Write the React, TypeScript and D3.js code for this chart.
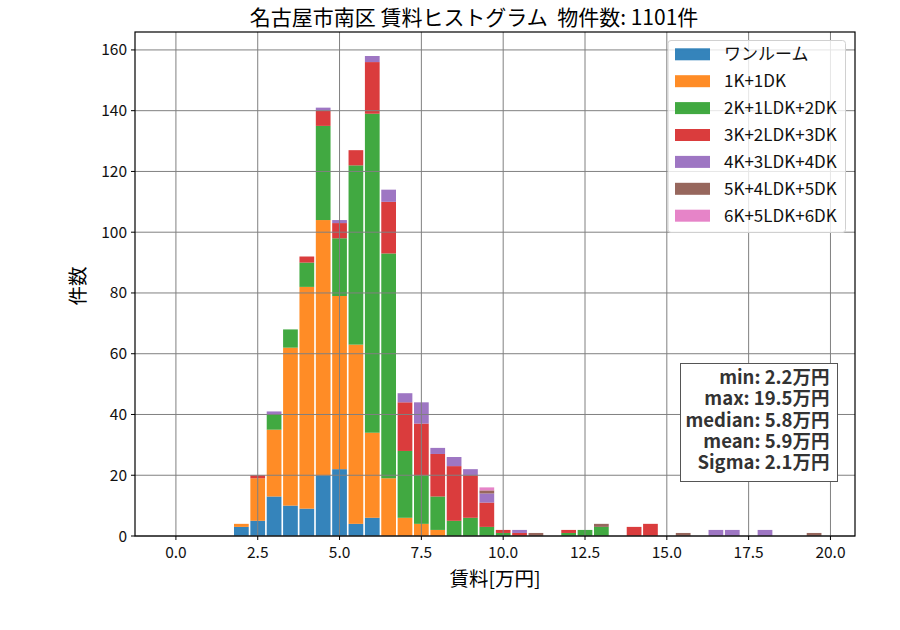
import * as d3 from 'd3';

// bin centres (万円) that hold at least one listing
const binCenters = [2.0, 2.5, 3.0, 3.5, 4.0, 4.5, 5.0, 5.5, 6.0, 6.5, 7.0, 7.5, 8.0, 8.5, 9.0, 9.5, 10.0, 10.5, 11.0, 12.0, 12.5, 13.0, 14.0, 14.5, 15.5, 16.5, 17.0, 18.0, 19.5];

const oneRoom = [3, 5, 13, 10, 9, 20, 22, 4, 6, 0, 0, 0, 0, 0, 0, 0, 0, 0, 0, 0, 0, 0, 0, 0, 0, 0, 0, 0, 0];
const k1 = [1, 14, 22, 52, 73, 84, 57, 59, 28, 19, 6, 4, 2, 0, 0, 0, 0, 0, 0, 0, 0, 0, 0, 0, 0, 0, 0, 0, 0];
const k2 = [0, 0, 5, 6, 8, 31, 19, 59, 105, 74, 22, 16, 11, 5, 6, 3, 1, 0, 0, 1, 2, 3, 0, 0, 0, 0, 0, 0, 0];
const k3 = [0, 1, 0, 0, 2, 5, 5, 5, 17, 17, 16, 17, 14, 18, 14, 8, 1, 1, 0, 1, 0, 0, 3, 4, 0, 0, 0, 0, 0];
const k4 = [0, 0, 1, 0, 0, 1, 1, 0, 2, 4, 3, 7, 2, 3, 2, 3, 0, 1, 0, 0, 0, 0, 0, 0, 0, 2, 2, 2, 0];
const k5 = [0, 0, 0, 0, 0, 0, 0, 0, 0, 0, 0, 0, 0, 0, 0, 1, 0, 0, 1, 0, 0, 1, 0, 0, 1, 0, 0, 0, 1];
const k6 = [0, 0, 0, 0, 0, 0, 0, 0, 0, 0, 0, 0, 0, 0, 0, 1, 0, 0, 0, 0, 0, 0, 0, 0, 0, 0, 0, 0, 0];

const seriesNames = ['ワンルーム', '1K+1DK', '2K+1LDK+2DK', '3K+2LDK+3DK', '4K+3LDK+4DK', '5K+4LDK+5DK', '6K+5LDK+6DK'];
const seriesValues = [oneRoom, k1, k2, k3, k4, k5, k6];
const colors = ['#1f77b4', '#ff7f0e', '#2ca02c', '#d62728', '#9467bd', '#8c564b', '#e377c2'];

const xTicks = [0, 2.5, 5, 7.5, 10, 12.5, 15, 17.5, 20];
const yTicks = [0, 20, 40, 60, 80, 100, 120, 140, 160];
const statsLines = ['min: 2.2万円', 'max: 19.5万円', 'median: 5.8万円', 'mean: 5.9万円', 'Sigma: 2.1万円'];
const title = '名古屋市南区 賃料ヒストグラム  物件数: 1101件';

const binWidth = 0.5;
const font = '"Noto Sans CJK JP", "Noto Sans", sans-serif';

export default function App() {
  const W = 900;
  const H = 630;
  const m = { left: 135, right: 855, top: 32, bottom: 536 };

  const x = d3.scaleLinear().domain([-1.25, 20.75]).range([m.left, m.right]);
  const y = d3.scaleLinear().domain([0, 165.9]).range([m.bottom, m.top]);

  const rows = binCenters.map((c, i) => {
    const r: Record<string, number> = { center: c };
    seriesNames.forEach((n, j) => (r[n] = seriesValues[j][i]));
    return r;
  });
  const stacked = d3.stack<Record<string, number>>().keys(seriesNames)(rows);
  const barW = x(binWidth * 0.9) - x(0);

  return (
    <svg width={W} height={H} style={{ position: 'absolute', left: 0, top: 0, fontFamily: font }}>
      <rect width={W} height={H} fill="white" />

      {/* bars */}
      {stacked.map((layer, j) => (
        <g key={layer.key} fill={colors[j]} fillOpacity={0.9}>
          {layer.map((d, i) =>
            d[1] - d[0] > 0 ? (
              <rect
                key={i}
                x={x(d.data.center) - barW / 2}
                width={barW}
                y={y(d[1])}
                height={y(d[0]) - y(d[1])}
              />
            ) : null
          )}
        </g>
      ))}

      {/* grid over bars */}
      <g stroke="#808080" strokeWidth={1}>
        {xTicks.map(t => (
          <line key={'gx' + t} x1={x(t)} x2={x(t)} y1={m.top} y2={m.bottom} />
        ))}
        {yTicks.map(t => (
          <line key={'gy' + t} x1={m.left} x2={m.right} y1={y(t)} y2={y(t)} />
        ))}
      </g>

      {/* frame */}
      <rect x={m.left} y={m.top} width={m.right - m.left} height={m.bottom - m.top} fill="none" stroke="black" strokeWidth={1.2} />

      {/* ticks */}
      <g fontSize={15.5} fill="#111">
        {xTicks.map(t => (
          <g key={'tx' + t}>
            <line x1={x(t)} x2={x(t)} y1={m.bottom} y2={m.bottom + 4} stroke="black" />
            <text x={x(t)} y={m.bottom + 22} textAnchor="middle">{t.toFixed(1)}</text>
          </g>
        ))}
        {yTicks.map(t => (
          <g key={'ty' + t}>
            <line x1={m.left - 4} x2={m.left} y1={y(t)} y2={y(t)} stroke="black" />
            <text x={m.left - 8} y={y(t) + 5.5} textAnchor="end">{t}</text>
          </g>
        ))}
      </g>

      {/* labels */}
      <text x={(m.left + m.right) / 2} y={586} textAnchor="middle" fontSize={19.5}>賃料[万円]</text>
      <text transform={`translate(85, ${(m.top + m.bottom) / 2 + 2}) rotate(-90)`} textAnchor="middle" fontSize={19.5}>件数</text>
      <text x={474} y={25} textAnchor="middle" fontSize={21} style={{ whiteSpace: 'pre' }}>{title}</text>

      {/* legend */}
      <g>
        <rect x={668} y={40.5} width={177.5} height={192} rx={3} fill="white" fillOpacity={0.8} stroke="#d0d0d0" />
        {seriesNames.map((n, j) => (
          <g key={n} transform={`translate(0, ${54.3 + j * 26.9})`}>
            <rect x={675} y={-6} width={35} height={12} fill={colors[j]} fillOpacity={0.9} />
            <text x={724} y={6} fontSize={17} fill="#111">{n}</text>
          </g>
        ))}
      </g>

      {/* stats box */}
      <g>
        <rect x={680.5} y={363.5} width={157} height={118} fill="white" stroke="#555" strokeWidth={1} />
        {statsLines.map((s, i) => (
          <text key={s} x={829.5} y={384} textAnchor="end" fontSize={18.5} fontWeight="bold" fill="#333" dy={i * 21.25}>{s}</text>
        ))}
      </g>
    </svg>
  );
}
